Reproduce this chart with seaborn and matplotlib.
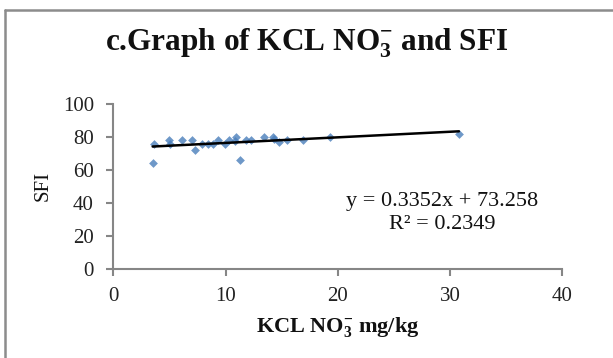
import matplotlib
matplotlib.use("Agg")
import matplotlib.pyplot as plt
import seaborn as sns
import pandas as pd
from matplotlib.lines import Line2D

# Data
kcl_no3 = [3.5, 3.6, 5.0, 5.05, 6.15, 7.0, 7.3, 7.9, 8.4, 8.85, 9.35, 9.95, 10.3,
           10.9, 10.8, 11.3, 11.8, 12.3, 13.4, 14.2, 14.35, 14.8, 15.5, 16.9, 19.3, 30.8]
sfi = [64, 76, 78, 76, 78, 78, 72, 76, 76, 76, 78, 76, 78,
       80, 77.5, 66, 78, 78, 80, 80, 79, 77, 78, 78, 80, 82]
x_ticks = [0, 10, 20, 30, 40]
y_ticks = [0, 20, 40, 60, 80, 100]
eq_text = "y = 0.3352x + 73.258"
r2_text = "R² = 0.2349"

df = pd.DataFrame({"x": kcl_no3, "y": sfi})

sns.set_theme(style="white")
plt.rcParams["font.family"] = ["Liberation Serif", "DejaVu Serif"]
plt.rcParams["mathtext.fontset"] = "custom"
plt.rcParams["mathtext.rm"] = "Liberation Serif"
plt.rcParams["mathtext.it"] = "Liberation Serif:italic"
plt.rcParams["mathtext.bf"] = "Liberation Serif:bold"

fig = plt.figure(figsize=(6.13, 3.58), dpi=100)
ax = fig.add_axes([0.185, 0.2494, 0.732, 0.4601])

sns.regplot(data=df, x="x", y="y", ax=ax, ci=None,
            marker="D", scatter_kws=dict(s=20, color="#4A7EBB", linewidths=0),
            line_kws=dict(color="black", lw=1.8))

ax.set_xlim(0, 40)
ax.set_ylim(0, 100)
ax.set_xticks(x_ticks)
ax.set_yticks(y_ticks)
ax.tick_params(axis="both", labelsize=15, colors="#868686", labelcolor="#222222",
               direction="out", length=5, width=1.5, left=True, bottom=True)
ax.tick_params(axis="y", pad=9)
ax.tick_params(axis="x", pad=8)
for s in ["top", "right"]:
    ax.spines[s].set_visible(False)
for s in ["left", "bottom"]:
    ax.spines[s].set_color("#868686")
    ax.spines[s].set_linewidth(1.5)

ax.set_xlabel(r"KCL NO$_\mathbf{3}^\mathbf{-}$ mg/kg", fontsize=16, fontweight="bold",
              color="#111111", labelpad=7)
ax.set_ylabel("SFI", fontsize=15, color="#111111", labelpad=7)

ax.text(0.733, 0.41, eq_text, transform=ax.transAxes, ha="center", va="center",
        fontsize=16, color="#111111")
ax.text(0.733, 0.27, r2_text, transform=ax.transAxes, ha="center", va="center",
        fontsize=16, color="#111111")

fig.text(0.5, 0.88, r"c.Graph of KCL NO$_\mathbf{3}^\mathbf{-}$ and SFI",
         ha="center", va="center", fontsize=22.5, fontweight="bold", color="#111111")

# outer chart border (left and top visible)
fig.add_artist(Line2D([0.008, 0.008], [0.0, 0.972], transform=fig.transFigure,
                      color="#8c8c8c", lw=1.8))
fig.add_artist(Line2D([0.008, 1.0], [0.972, 0.972], transform=fig.transFigure,
                      color="#8c8c8c", lw=1.8))

fig.savefig("out.png", dpi=100)
